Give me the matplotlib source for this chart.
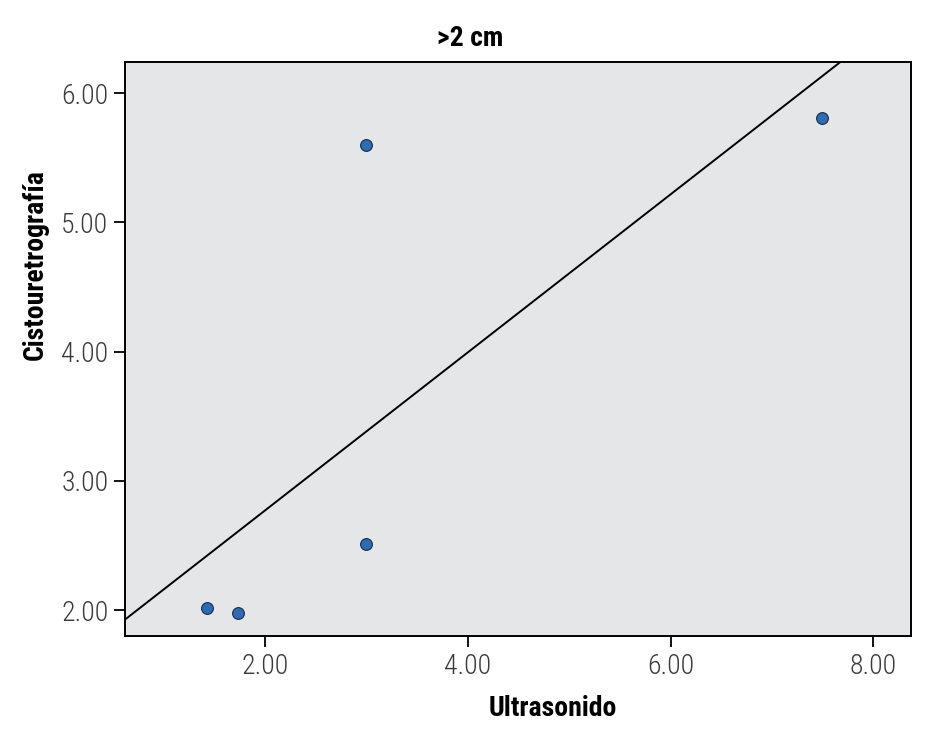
import numpy as np
import matplotlib
matplotlib.use("Agg")
import matplotlib.pyplot as plt
from matplotlib import font_manager

# data
ultrasonido = [1.43, 1.73, 3.00, 3.00, 7.49]
cisto = [2.02, 1.98, 2.51, 5.60, 5.81]
xticks = [2.0, 4.0, 6.0, 8.0]
yticks = [2.0, 3.0, 4.0, 5.0, 6.0]

# condensed face if one is installed, otherwise plain DejaVu
names = {f.name for f in font_manager.fontManager.ttflist}
cands = ["Liberation Sans Narrow", "DejaVu Sans Condensed", "Roboto Condensed",
         "Open Sans Condensed", "Noto Sans Condensed"]
narrow = [c for c in cands if c in names]
FAM = narrow[:1] + ["DejaVu Sans"]
plt.rcParams["font.family"] = FAM
light = "light" if any(f.name == FAM[0] and f.weight in (300, "light") for f in font_manager.fontManager.ttflist) else "normal"

fig = plt.figure(figsize=(9.5, 7.5), dpi=100)
ax = fig.add_axes([125/950, 1 - 636/750, (911 - 125)/950, (636 - 62)/750])
ax.set_facecolor("#e5e6e8")

ax.scatter(ultrasonido, cisto, s=72, color="#2b6cb3", edgecolor="#1a2a4a", linewidth=0.8, zorder=3)

xlim = (0.62, 8.37)
b, a = np.polyfit(ultrasonido, cisto, 1)
xx = np.array(xlim)
ax.plot(xx, a + b * xx, color="black", lw=1.4, zorder=2)

ax.set_xlim(*xlim)
ax.set_ylim(1.80, 6.24)
ax.set_xticks(xticks)
ax.set_yticks(yticks)
ax.set_xticklabels([f"{v:.2f}" for v in xticks], fontweight=light)
ax.set_yticklabels([f"{v:.2f}" for v in yticks], fontweight=light)
ax.tick_params(length=8, width=1.3, labelsize=20, labelcolor="#3a3a3a", pad=4)
for s in ax.spines.values():
    s.set_linewidth(1.4)

fig.text(470/950, 1 - 38/750, ">2 cm", ha="center", va="center", fontsize=20, fontweight="bold")
fig.text(553/950, 1 - 708/750, "Ultrasonido", ha="center", va="center", fontsize=20, fontweight="bold")
fig.text(35/950, 1 - 265/750, "Cistouretrografía", ha="center", va="center", rotation=90,
         fontsize=20, fontweight="bold")

fig.savefig("out.png", dpi=100, facecolor="white")
